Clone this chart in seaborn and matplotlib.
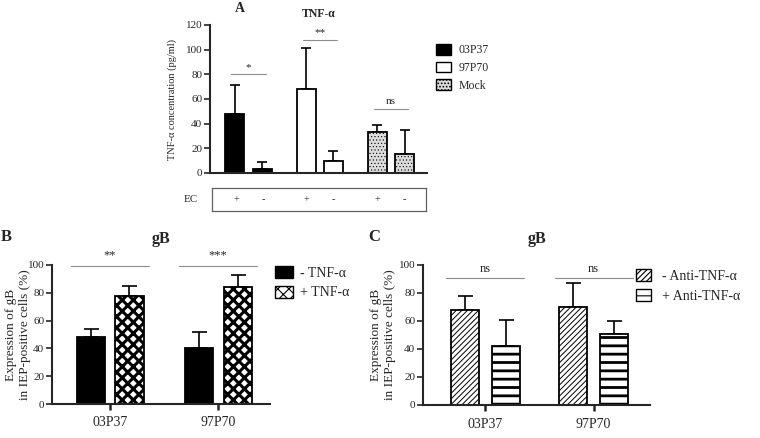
import numpy as np
import pandas as pd
import matplotlib
matplotlib.use('Agg')
import matplotlib.pyplot as plt
from matplotlib.patches import Patch
from matplotlib.container import BarContainer
import seaborn as sns

##### data #####
a_groups = ['03P37', '97P70', 'Mock']
a_ec = ['+', '-']
a_mean = [48, 3.5, 68, 9.5, 33, 15.5]
a_sd = [23, 5.5, 33, 8.5, 6, 19.5]
a_sig = ['*', '**', 'ns']
a_sig_y = [80, 108, 52]

strains = ['03P37', '97P70']
b_treat = ['- TNF-α', '+ TNF-α']
b_mean = [48, 78, 40, 84]
b_sd = [6, 7, 12, 9]
b_sig = ['**', '***']
b_sig_y = [99, 99]

c_treat = ['- Anti-TNF-α', '+ Anti-TNF-α']
c_mean = [68, 42, 70, 51]
c_sd = [10, 19, 17, 9]
c_sig = ['ns', 'ns']
c_sig_y = [91, 91]

##### style #####
sns.set_theme(style='ticks')
plt.rcParams['font.family'] = ['Liberation Serif', 'DejaVu Serif']
plt.rcParams['axes.linewidth'] = 1.5
plt.rcParams['hatch.linewidth'] = 0.8

W, H = 760, 438
fig = plt.figure(figsize=(7.6, 4.38), dpi=100)

def px_axes(x0, y0, x1, y1):
    return fig.add_axes([x0 / W, 1 - y1 / H, (x1 - x0) / W, (y1 - y0) / H])

def set_hatch_lw(p, lw):
    if hasattr(p, 'set_hatch_linewidth'):
        p.set_hatch_linewidth(lw)

def bars_of(ax):
    return [c for c in ax.containers if isinstance(c, BarContainer)]

def add_errors(ax, sd_map, cap):
    for i, cont in enumerate(bars_of(ax)):
        for j, bar in enumerate(cont):
            x = bar.get_x() + bar.get_width() / 2
            h = bar.get_height()
            ax.errorbar(x, h, yerr=[[0], [sd_map[j][i]]], fmt='none', ecolor='black',
                        elinewidth=1.2, capsize=cap, capthick=1.2, zorder=1)

def add_sig(ax, labels, ys, half, fs, dy):
    for k, (lab, yy) in enumerate(zip(labels, ys)):
        ax.plot([k - half, k + half], [yy, yy], color='#8c8c8c', lw=0.8, clip_on=False)
        ax.text(k, yy + dy, lab, ha='center', va='bottom', fontsize=fs, clip_on=False)

def style_axes(ax, ylabel, fs_tick, fs_lab):
    sns.despine(ax=ax)
    ax.set_xlabel('')
    ax.set_ylabel(ylabel, fontsize=fs_lab)
    ax.tick_params(axis='y', labelsize=fs_tick, length=4, width=1.2, pad=1.5)
    if ax.get_legend():
        ax.get_legend().remove()

##### panel A #####
df_a = pd.DataFrame({'Strain': np.repeat(a_groups, 2), 'EC': a_ec * 3, 'Value': a_mean})
ax_a = px_axes(210, 25, 427, 173)
sns.barplot(data=df_a, x='Strain', y='Value', hue='EC', order=a_groups, hue_order=a_ec,
            palette=['white', 'white'], saturation=1, width=0.76, gap=0.3,
            edgecolor='black', linewidth=1.3, errorbar=None, ax=ax_a, zorder=2)
a_faces = ['black', 'white', '#dcdcdc']
for cont in bars_of(ax_a):
    for j, bar in enumerate(cont):
        bar.set_facecolor(a_faces[j])
        if j == 2:
            bar.set_hatch('.....')
            set_hatch_lw(bar, 0.4)
a_sd_map = [[a_sd[2 * j], a_sd[2 * j + 1]] for j in range(3)]
add_errors(ax_a, a_sd_map, 3.6)
ax_a.set_ylim(0, 120)
ax_a.set_yticks(range(0, 121, 20))
ax_a.set_xlim(-0.54, 2.505)
ax_a.set_xticks([])
style_axes(ax_a, 'TNF-α concentration (pg/ml)', 8, 7.5)
ax_a.yaxis.set_label_coords(-0.15, 0.5)
add_sig(ax_a, a_sig, a_sig_y, 0.24, 8, 2)
ax_a.set_title('TNF-α', fontsize=8.5, fontweight='bold', pad=6)
fig.text(240 / W, 1 - 8 / H, 'A', fontsize=10, fontweight='bold', ha='center', va='center')

# EC row
ax_ec = px_axes(212, 188, 426, 211)
ax_ec.set_xlim(ax_a.get_xlim())
ax_ec.set_ylim(0, 1)
ax_ec.set_xticks([])
ax_ec.set_yticks([])
for s in ax_ec.spines.values():
    s.set_color('#606060')
    s.set_linewidth(0.9)
for i, cont in enumerate(bars_of(ax_a)):
    for bar in cont:
        ax_ec.text(bar.get_x() + bar.get_width() / 2, 0.5, a_ec[i], ha='center', va='center', fontsize=7.5)
ax_ec.text(-0.1, 0.5, 'EC', transform=ax_ec.transAxes, ha='center', va='center', fontsize=8)

a_handles = [Patch(facecolor='black', edgecolor='black', lw=1),
             Patch(facecolor='white', edgecolor='black', lw=1),
             Patch(facecolor='#dcdcdc', edgecolor='black', lw=1, hatch='.....')]
fig.legend(a_handles, a_groups, loc='upper left', bbox_to_anchor=(436 / W, 1 - 44 / H),
           frameon=False, fontsize=8.5, handlelength=1.3, handleheight=1.0,
           handletextpad=0.6, labelspacing=0.45, borderpad=0, borderaxespad=0)

##### panel B #####
df_b = pd.DataFrame({'Strain': np.repeat(strains, 2), 'Treat': b_treat * 2, 'Value': b_mean})
ax_b = px_axes(52, 265, 270, 404)
sns.barplot(data=df_b, x='Strain', y='Value', hue='Treat', order=strains, hue_order=b_treat,
            palette=['black', 'white'], saturation=1, width=0.72, gap=0.28,
            edgecolor='black', linewidth=1.3, errorbar=None, ax=ax_b, zorder=2)
for bar in bars_of(ax_b)[1]:
    bar.set_hatch('xxx')
    set_hatch_lw(bar, 2.2)
add_errors(ax_b, [[b_sd[0], b_sd[1]], [b_sd[2], b_sd[3]]], 5.4)
ax_b.set_ylim(0, 100)
ax_b.set_yticks(range(0, 101, 20))
ax_b.set_xlim(-0.537, 1.48)
style_axes(ax_b, 'Expression of gB\nin IEP-positive cells (%)', 8, 9.5)
ax_b.tick_params(axis='x', labelsize=10, length=4, width=1.8, pad=5)
ax_b.yaxis.set_label_coords(-0.095, 0.5)
add_sig(ax_b, b_sig, b_sig_y, 0.36, 9, 4)
ax_b.set_title('gB', fontsize=11.5, fontweight='bold', pad=16)
fig.text(6 / W, 1 - 237 / H, 'B', fontsize=12, fontweight='bold', ha='center', va='center')

b_handles = [Patch(facecolor='black', edgecolor='black', lw=1),
             Patch(facecolor='white', edgecolor='black', lw=1, hatch='xxx')]
fig.legend(b_handles, b_treat, loc='upper left', bbox_to_anchor=(275 / W, 1 - 266 / H),
           frameon=False, fontsize=10, handlelength=1.3, handleheight=1.0,
           handletextpad=0.5, labelspacing=0.4, borderpad=0, borderaxespad=0)

##### panel C #####
df_c = pd.DataFrame({'Strain': np.repeat(strains, 2), 'Treat': c_treat * 2, 'Value': c_mean})
ax_c = px_axes(423, 265, 650, 405)
sns.barplot(data=df_c, x='Strain', y='Value', hue='Treat', order=strains, hue_order=c_treat,
            palette=['white', 'white'], saturation=1, width=0.76, gap=0.32,
            edgecolor='black', linewidth=1.3, errorbar=None, ax=ax_c, zorder=2)
for bar in bars_of(ax_c)[0]:
    bar.set_hatch('//////')
    set_hatch_lw(bar, 0.7)
for bar in bars_of(ax_c)[1]:
    bar.set_hatch('--')
    set_hatch_lw(bar, 2.0)
add_errors(ax_c, [[c_sd[0], c_sd[1]], [c_sd[2], c_sd[3]]], 5.4)
ax_c.set_ylim(0, 100)
ax_c.set_yticks(range(0, 101, 20))
ax_c.set_xlim(-0.574, 1.52)
style_axes(ax_c, 'Expression of gB\nin IEP-positive cells (%)', 8, 9.5)
ax_c.tick_params(axis='x', labelsize=10, length=4, width=1.8, pad=5)
ax_c.yaxis.set_label_coords(-0.12, 0.5)
add_sig(ax_c, c_sig, c_sig_y, 0.36, 9, 1.5)
ax_c.set_title('gB', fontsize=11.5, fontweight='bold', pad=16)
fig.text(374 / W, 1 - 237 / H, 'C', fontsize=12, fontweight='bold', ha='center', va='center')

c_handles = [Patch(facecolor='white', edgecolor='black', lw=1, hatch='//////'),
             Patch(facecolor='white', edgecolor='black', lw=1, hatch='--')]
fig.legend(c_handles, c_treat, loc='upper left', bbox_to_anchor=(636 / W, 1 - 269 / H),
           frameon=False, fontsize=10, handlelength=1.1, handleheight=1.0,
           handletextpad=0.8, labelspacing=0.4, borderpad=0, borderaxespad=0)

fig.savefig('out.png', dpi=100)
